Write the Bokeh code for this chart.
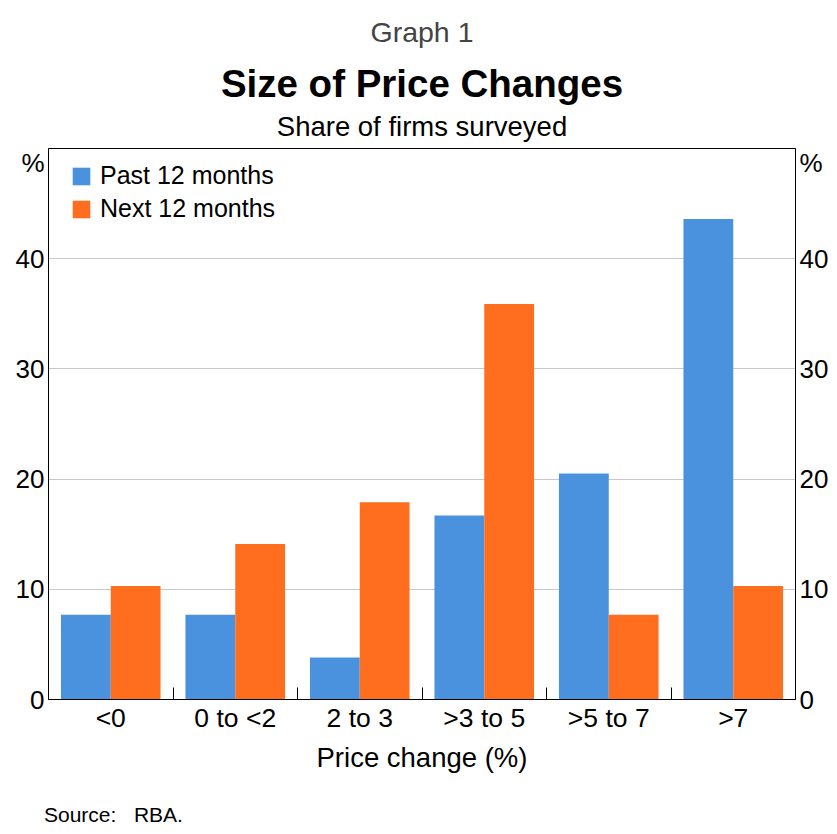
from bokeh.plotting import figure
from bokeh.models import (Range1d, FixedTicker, LinearAxis, CustomJSTickFormatter,
                          Title, Legend, LegendItem, Div)
from bokeh.layouts import column
from bokeh.embed import file_html
from bokeh.resources import INLINE
import numpy as np

categories = ["<0", "0 to <2", "2 to 3", ">3 to 5", ">5 to 7", ">7"]
past_12 = [7.7, 7.7, 3.8, 16.7, 20.5, 43.6]
next_12 = [10.3, 14.1, 17.9, 35.9, 7.7, 10.3]
y_ticks = [0, 10, 20, 30, 40]

BLUE = "#4A92DE"
ORANGE = "#FF6E1F"
FONT = "Liberation Sans"

idx = np.arange(len(categories))

p = figure(width=837, height=804, output_backend="svg", toolbar_location=None,
           x_range=Range1d(0, len(categories)), y_range=Range1d(0, 50),
           min_border_left=48, min_border_right=42, min_border_top=148,
           min_border_bottom=105)
p.background_fill_color = "white"
p.border_fill_color = "white"
p.outline_line_color = "black"
p.outline_line_width = 1

b1 = p.vbar(x=idx + 0.3, top=past_12, width=0.4, bottom=0, fill_color=BLUE, line_color=None)
b2 = p.vbar(x=idx + 0.7, top=next_12, width=0.4, bottom=0, fill_color=ORANGE, line_color=None)

# x axis
xaxis = p.xaxis[0]
xaxis.ticker = FixedTicker(ticks=list(idx + 0.5), minor_ticks=list(idx[1:]))
xaxis.formatter = CustomJSTickFormatter(args=dict(labels=categories),
                                        code="return labels[Math.floor(tick)];")
xaxis.major_tick_in = 0
xaxis.major_tick_out = 0
xaxis.minor_tick_in = 12
xaxis.minor_tick_out = 0
xaxis.minor_tick_line_color = "black"
xaxis.axis_line_color = "black"
xaxis.major_label_text_font = FONT
xaxis.major_label_text_font_size = "26.5px"
xaxis.major_label_text_color = "black"
xaxis.major_label_standoff = 3
xaxis.axis_label = "Price change (%)"
xaxis.axis_label_text_font = FONT
xaxis.axis_label_text_font_size = "27.5px"
xaxis.axis_label_text_font_style = "normal"
xaxis.axis_label_text_color = "black"
xaxis.axis_label_standoff = 6

yfmt = CustomJSTickFormatter(code="return tick > 45 ? '%' : tick.toFixed(0);")
yticker = FixedTicker(ticks=y_ticks + [48.7])


def style_y(ax):
    ax.ticker = yticker
    ax.formatter = yfmt
    ax.major_tick_in = 0
    ax.major_tick_out = 0
    ax.minor_tick_line_color = None
    ax.axis_line_color = "black"
    ax.major_label_text_font = FONT
    ax.major_label_text_font_size = "26px"
    ax.major_label_text_color = "black"
    ax.major_label_standoff = 4


style_y(p.yaxis[0])
raxis = LinearAxis()
style_y(raxis)
p.add_layout(raxis, "right")

p.xgrid.visible = False
p.ygrid.ticker = FixedTicker(ticks=[10, 20, 30, 40])
p.ygrid.grid_line_color = "#c8c8c8"
p.ygrid.grid_line_width = 1

legend = Legend(items=[LegendItem(label="Past 12 months", renderers=[b1]),
                       LegendItem(label="Next 12 months", renderers=[b2])],
                location=(22, 476), margin=0, padding=0, spacing=4,
                glyph_width=22, glyph_height=22, label_standoff=8,
                label_text_font=FONT, label_text_font_size="25px",
                label_text_color="black",
                border_line_color=None, background_fill_alpha=0)
p.add_layout(legend, "center")

p.add_layout(Title(text="Share of firms surveyed", align="center", text_font=FONT,
                   text_font_size="27.5px", text_font_style="normal", text_color="black",
                   standoff=13), "above")
p.add_layout(Title(text="Size of Price Changes", align="center", text_font=FONT,
                   text_font_size="38.5px", text_font_style="bold", text_color="black",
                   standoff=-4), "above")
p.add_layout(Title(text="Graph 1", align="center", text_font=FONT,
                   text_font_size="28.5px", text_font_style="normal", text_color="#444444",
                   standoff=27), "above")

# footer with the source note
foot = Div(text="Source:&nbsp;&nbsp;&nbsp;RBA.", width=837, height=30, margin=0,
           styles={"font-family": FONT, "font-size": "21px", "color": "black",
                   "line-height": "22px", "padding-left": "44px"})

layout = column(p, foot, spacing=0)
open("out.html", "w").write(file_html(layout, INLINE))
